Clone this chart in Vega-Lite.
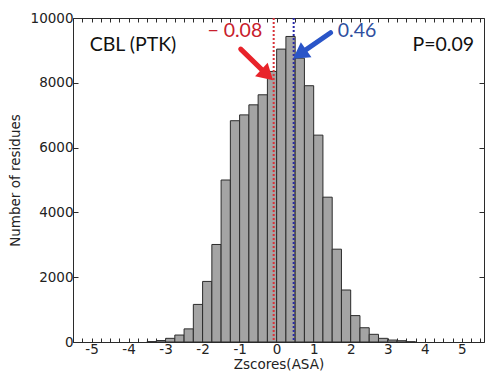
{
  "$schema": "https://vega.github.io/schema/vega-lite/v6.json",
  "width": 411,
  "height": 324,
  "autosize": "none",
  "padding": {"left": 73, "top": 18, "right": 3, "bottom": 34},
  "background": "white",
  "config": {
    "view": {"stroke": "#2b2b2b", "strokeWidth": 1},
    "axis": {
      "domain": false,
      "grid": false,
      "tickColor": "#2b2b2b",
      "labelFont": "DejaVu Sans",
      "labelFontSize": 13.5,
      "labelColor": "#222222",
      "titleFont": "DejaVu Sans",
      "titleFontSize": 13.5,
      "titleFontWeight": "normal",
      "titleColor": "#222222"
    }
  },
  "datasets": {
    "hist": [
      {"lo": -3.5, "hi": -3.25, "n": 12},
      {"lo": -3.25, "hi": -3.0, "n": 45},
      {"lo": -3.0, "hi": -2.75, "n": 113},
      {"lo": -2.75, "hi": -2.5, "n": 215},
      {"lo": -2.5, "hi": -2.25, "n": 405},
      {"lo": -2.25, "hi": -2.0, "n": 1160},
      {"lo": -2.0, "hi": -1.75, "n": 1870},
      {"lo": -1.75, "hi": -1.5, "n": 3010},
      {"lo": -1.5, "hi": -1.25, "n": 5000},
      {"lo": -1.25, "hi": -1.0, "n": 6830},
      {"lo": -1.0, "hi": -0.75, "n": 7010},
      {"lo": -0.75, "hi": -0.5, "n": 7320},
      {"lo": -0.5, "hi": -0.25, "n": 7630},
      {"lo": -0.25, "hi": 0.0, "n": 8350},
      {"lo": 0.0, "hi": 0.25, "n": 9040},
      {"lo": 0.25, "hi": 0.5, "n": 9430},
      {"lo": 0.5, "hi": 0.75, "n": 8760},
      {"lo": 0.75, "hi": 1.0, "n": 7910},
      {"lo": 1.0, "hi": 1.25, "n": 6385},
      {"lo": 1.25, "hi": 1.5, "n": 4470},
      {"lo": 1.5, "hi": 1.75, "n": 2865},
      {"lo": 1.75, "hi": 2.0, "n": 1605},
      {"lo": 2.0, "hi": 2.25, "n": 815},
      {"lo": 2.25, "hi": 2.5, "n": 440},
      {"lo": 2.5, "hi": 2.75, "n": 237},
      {"lo": 2.75, "hi": 3.0, "n": 113},
      {"lo": 3.0, "hi": 3.25, "n": 60},
      {"lo": 3.25, "hi": 3.5, "n": 40},
      {"lo": 3.5, "hi": 3.75, "n": 8}
    ]
  },
  "resolve": {"axis": {"x": "independent", "y": "independent"}},
  "layer": [
    {
      "data": {"name": "hist"},
      "mark": {"type": "bar", "fill": "#a4a4a4", "stroke": "#2b2b2b", "strokeWidth": 1},
      "encoding": {
        "x": {
          "field": "lo", "type": "quantitative",
          "scale": {"domain": [-5.5, 5.6], "nice": false, "zero": false},
          "axis": {
            "orient": "bottom",
            "title": "Zscores(ASA)",
            "values": [-5.5,-5.25,-5,-4.75,-4.5,-4.25,-4,-3.75,-3.5,-3.25,-3,-2.75,-2.5,-2.25,-2,-1.75,-1.5,-1.25,-1,-0.75,-0.5,-0.25,0,0.25,0.5,0.75,1,1.25,1.5,1.75,2,2.25,2.5,2.75,3,3.25,3.5,3.75,4,4.25,4.5,4.75,5,5.25,5.5],
            "labelExpr": "datum.value % 1 === 0 ? (datum.value < 0 ? '-' + abs(datum.value) : '' + datum.value) : ''",
            "tickSize": -4,
            "labelPadding": 4,
            "labelFlush": false,
            "labelOverlap": false,
            "titlePadding": 2
          }
        },
        "x2": {"field": "hi"},
        "y": {
          "field": "n", "type": "quantitative",
          "scale": {"domain": [0, 10000], "nice": false},
          "axis": {
            "orient": "left",
            "title": "Number of residues",
            "values": [0, 2000, 4000, 6000, 8000, 10000],
            "format": "d",
            "tickSize": -5,
            "labelPadding": 5,
            "titlePadding": 8
          }
        },
        "y2": {"datum": 0}
      }
    },
    {
      "data": {"name": "hist"},
      "mark": {"type": "point", "opacity": 0},
      "encoding": {
        "x": {
          "field": "lo", "type": "quantitative",
          "axis": {
            "orient": "top", "title": null, "labels": false,
            "values": [-5.5,-5.25,-5,-4.75,-4.5,-4.25,-4,-3.75,-3.5,-3.25,-3,-2.75,-2.5,-2.25,-2,-1.75,-1.5,-1.25,-1,-0.75,-0.5,-0.25,0,0.25,0.5,0.75,1,1.25,1.5,1.75,2,2.25,2.5,2.75,3,3.25,3.5,3.75,4,4.25,4.5,4.75,5,5.25,5.5],
            "tickSize": -4
          }
        },
        "y": {
          "field": "n", "type": "quantitative",
          "axis": {
            "orient": "right", "title": null, "labels": false,
            "values": [0, 2000, 4000, 6000, 8000, 10000],
            "tickSize": -5
          }
        }
      }
    },
    {
      "data": {"values": [{"mean": -0.08}]},
      "mark": {"type": "rule", "color": "#d9333a", "strokeWidth": 2, "strokeDash": [2, 2]},
      "encoding": {"x": {"field": "mean", "type": "quantitative", "axis": null}}
    },
    {
      "data": {"values": [{"mean": 0.46}]},
      "mark": {"type": "rule", "color": "#2a2aa8", "strokeWidth": 2, "strokeDash": [2, 2]},
      "encoding": {"x": {"field": "mean", "type": "quantitative", "axis": null}}
    },
    {
      "data": {"values": [{"x": -0.97, "y": 9040, "xe": -0.27, "ye": 8260}]},
      "mark": {"type": "rule", "color": "#e8232a", "strokeWidth": 5, "strokeCap": "round"},
      "encoding": {
        "x": {"field": "x", "type": "quantitative", "axis": null},
        "y": {"field": "y", "type": "quantitative", "axis": null},
        "x2": {"field": "xe"},
        "y2": {"field": "ye"}
      }
    },
    {
      "data": {"values": [{"x": -0.255, "y": 8245}]},
      "mark": {"type": "point", "shape": "triangle-up", "filled": true, "color": "#e8232a", "size": 340, "angle": 133, "opacity": 1},
      "encoding": {
        "x": {"field": "x", "type": "quantitative", "axis": null},
        "y": {"field": "y", "type": "quantitative", "axis": null}
      }
    },
    {
      "data": {"values": [{"x": 1.456, "y": 9546, "xe": 0.62, "ye": 8885}]},
      "mark": {"type": "rule", "color": "#2a55c8", "strokeWidth": 5, "strokeCap": "round"},
      "encoding": {
        "x": {"field": "x", "type": "quantitative", "axis": null},
        "y": {"field": "y", "type": "quantitative", "axis": null},
        "x2": {"field": "xe"},
        "y2": {"field": "ye"}
      }
    },
    {
      "data": {"values": [{"x": 0.62, "y": 8880}]},
      "mark": {"type": "point", "shape": "triangle-up", "filled": true, "color": "#2a55c8", "size": 340, "angle": 235, "opacity": 1},
      "encoding": {
        "x": {"field": "x", "type": "quantitative", "axis": null},
        "y": {"field": "y", "type": "quantitative", "axis": null}
      }
    },
    {
      "data": {"values": [{"x": -3.88, "y": 9175, "label": "CBL (PTK)"}, {"x": 4.5, "y": 9175, "label": "P=0.09"}]},
      "mark": {"type": "text", "font": "Lato", "fontSize": 19.5, "color": "#111111", "align": "center", "baseline": "middle"},
      "encoding": {
        "x": {"field": "x", "type": "quantitative", "axis": null},
        "y": {"field": "y", "type": "quantitative", "axis": null},
        "text": {"field": "label"}
      }
    },
    {
      "data": {"values": [{"x": -1.13, "y": 9586, "label": "− 0.08"}]},
      "mark": {"type": "text", "font": "Lato", "fontSize": 19.5, "color": "#c8202c", "align": "center", "baseline": "middle"},
      "encoding": {
        "x": {"field": "x", "type": "quantitative", "axis": null},
        "y": {"field": "y", "type": "quantitative", "axis": null},
        "text": {"field": "label"}
      }
    },
    {
      "data": {"values": [{"x": 2.17, "y": 9586, "label": "0.46"}]},
      "mark": {"type": "text", "font": "Lato", "fontSize": 19.5, "color": "#2f4f9f", "align": "center", "baseline": "middle"},
      "encoding": {
        "x": {"field": "x", "type": "quantitative", "axis": null},
        "y": {"field": "y", "type": "quantitative", "axis": null},
        "text": {"field": "label"}
      }
    }
  ]
}
